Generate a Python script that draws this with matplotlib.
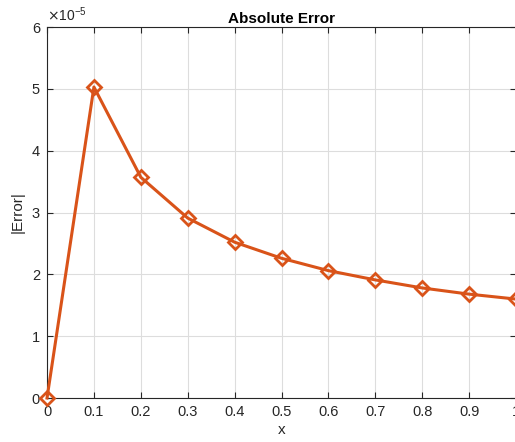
import numpy as np
import matplotlib.pyplot as plt

plt.rcParams['font.family'] = ['Liberation Sans', 'DejaVu Sans']

x = [0, 0.1, 0.2, 0.3, 0.4, 0.5, 0.6, 0.7, 0.8, 0.9, 1.0]
err = [0, 5.03, 3.57, 2.91, 2.52, 2.26, 2.06, 1.91, 1.78, 1.68, 1.60]  # x 1e-5
err = np.array(err) * 1e-5

fig = plt.figure(figsize=(5.15, 4.42), dpi=100)
ax = fig.add_axes([0.0913, 0.0995, 0.9107, 0.8394])

ax.plot(x, err, color='#D95319', linewidth=2.2, marker='D', markersize=7,
        markerfacecolor='none', markeredgewidth=2, clip_on=False, zorder=3)

ax.set_xlim(0, 1)
ax.set_ylim(0, 6e-5)
ax.set_xticks(np.arange(0, 1.01, 0.1))
ax.set_xticklabels(['0', '0.1', '0.2', '0.3', '0.4', '0.5', '0.6', '0.7', '0.8', '0.9', '1'])
ax.set_yticks(np.arange(0, 7) * 1e-5)
ax.set_yticklabels([str(i) for i in range(7)])
ax.grid(True, color='#dddddd', linewidth=0.8)
ax.set_axisbelow(True)
ax.tick_params(direction='in', top=True, right=True, labelsize=10.5,
               colors='#262626', length=4, pad=5)
for s in ax.spines.values():
    s.set_color('#262626')

ax.text(0.0, 1.008, r'$\times\mathregular{10^{-5}}$', transform=ax.transAxes,
        fontsize=10, color='#262626', va='bottom', ha='left')
ax.set_title('Absolute Error', fontweight='bold', fontsize=11, pad=3)
ax.set_xlabel('x', fontsize=11, color='#262626', labelpad=3)
ax.set_ylabel('|Error|', fontsize=11, color='#262626', labelpad=5)

fig.savefig('out.png', dpi=100)
